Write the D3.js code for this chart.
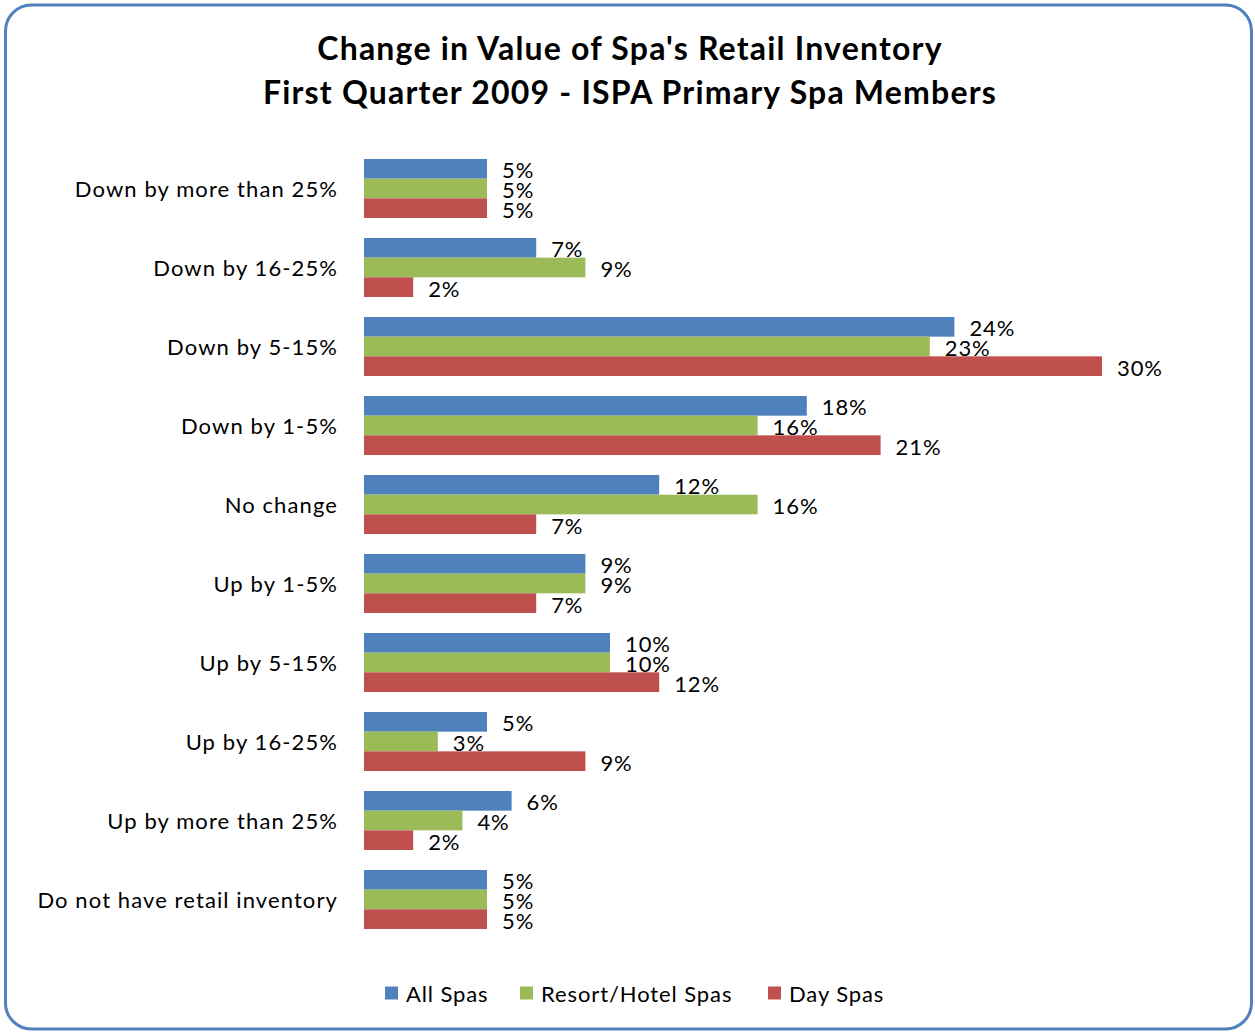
<!DOCTYPE html>
<html>
<head>
<meta charset="utf-8">
<script src="https://cdn.jsdelivr.net/npm/d3@7"></script>
<style>
  body { margin: 0; background: #fff; }
  text { font-family: Lato, "Open Sans", sans-serif; fill: #000; }
</style>
</head>
<body>
<svg id="chart" width="1255" height="1032"></svg>
<script>
const categories = ["Down by more than 25%", "Down by 16-25%", "Down by 5-15%", "Down by 1-5%",
  "No change", "Up by 1-5%", "Up by 5-15%", "Up by 16-25%", "Up by more than 25%",
  "Do not have retail inventory"];
const seriesNames = ["All Spas", "Resort/Hotel Spas", "Day Spas"];
const allSpas = [5, 7, 24, 18, 12, 9, 10, 5, 6, 5];
const resortSpas = [5, 9, 23, 16, 16, 9, 10, 3, 4, 5];
const daySpas = [5, 2, 30, 21, 7, 7, 12, 9, 2, 5];
const colors = ["#4f81bd", "#9bbb59", "#c0504d"];
const titleLines = ["Change in Value of Spa's Retail Inventory", "First Quarter 2009 - ISPA Primary Spa Members"];

const seriesValues = [allSpas, resortSpas, daySpas];
const svg = d3.select("#chart");

// rounded border
svg.append("rect")
   .attr("x", 5.5).attr("y", 5)
   .attr("width", 1246).attr("height", 1024)
   .attr("rx", 26).attr("ry", 26)
   .attr("fill", "#fff")
   .attr("stroke", "#4f81bd")
   .attr("stroke-width", 3);

svg.selectAll(".title")
   .data(titleLines)
   .enter().append("text")
   .attr("class", "title")
   .attr("x", 630)
   .attr("y", (d, i) => 60 + i * 44)
   .attr("text-anchor", "middle")
   .style("font-size", "32px")
   .style("font-weight", "bold")
   .style("letter-spacing", "1.2px")
   .text(d => d);

const x = d3.scaleLinear().domain([0, 30]).range([364, 1102]);
const y = d3.scaleBand().domain(categories).range([139, 949]).paddingInner(0.253).paddingOuter(0.253);
const ySub = d3.scaleBand().domain(seriesNames).range([0, y.bandwidth()]);

const groups = svg.selectAll(".group")
   .data(categories)
   .enter().append("g")
   .attr("class", "group")
   .attr("transform", d => `translate(0, ${y(d)})`);

groups.append("text")
   .attr("x", 338)
   .attr("y", y.bandwidth() / 2)
   .attr("text-anchor", "end")
   .attr("dominant-baseline", "central")
   .style("font-size", "22px")
   .style("letter-spacing", "1.1px")
   .text(d => d);

seriesNames.forEach((s, si) => {
  groups.append("rect")
     .attr("x", x(0))
     .attr("y", ySub(s))
     .attr("width", (d, i) => x(seriesValues[si][i]) - x(0))
     .attr("height", ySub.bandwidth())
     .attr("fill", colors[si]);
});

seriesNames.forEach((s, si) => {
  groups.append("text")
     .attr("x", (d, i) => x(seriesValues[si][i]) + 15)
     .attr("y", ySub(s) + ySub.bandwidth() / 2 + 1)
     .attr("dominant-baseline", "central")
     .style("font-size", "22px")
     .style("letter-spacing", "0.9px")
     .text((d, i) => seriesValues[si][i] + "%");
});

// legend
const legendX = [385, 520, 768];
const legend = svg.selectAll(".legend")
   .data(seriesNames)
   .enter().append("g")
   .attr("class", "legend")
   .attr("transform", (d, i) => `translate(${legendX[i]}, 993)`);

legend.append("rect")
   .attr("x", 0).attr("y", -6.5)
   .attr("width", 13).attr("height", 13)
   .attr("fill", (d, i) => colors[i]);

legend.append("text")
   .attr("x", 21)
   .attr("y", 0)
   .attr("dominant-baseline", "central")
   .style("font-size", "22px")
   .style("letter-spacing", "0.9px")
   .text(d => d);
</script>
</body>
</html>
